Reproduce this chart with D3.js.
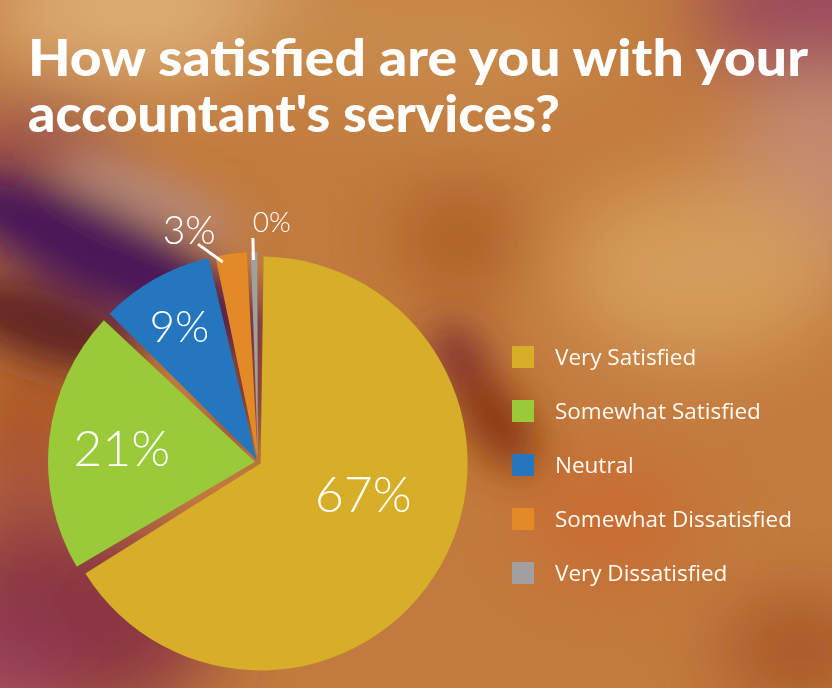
<!DOCTYPE html>
<html>
<head>
<meta charset="utf-8">
<script src="https://cdn.jsdelivr.net/npm/d3@7"></script>
<style>
  body { margin: 0; padding: 0; overflow: hidden; }
  svg { display: block; }
</style>
</head>
<body>
<div id="chart"></div>
<script>
var svgWidth = 832;
var svgHeight = 688;

// chart data
var categories = ["Very Satisfied", "Somewhat Satisfied", "Neutral", "Somewhat Dissatisfied", "Very Dissatisfied"];
var shares = [66.3, 20.9, 9.3, 2.9, 0.6];
var shareLabels = ["67%", "21%", "9%", "3%", "0%"];
var colors = ["#d6ae28", "#9ac93a", "#2476be", "#e38a27", "#a0a0a0"];
var titleLines = ["How satisfied are you with your", "accountant's services?"];

var cx = 258, cy = 462, radius = 207;

var svg = d3.select("#chart")
  .append("svg")
  .attr("width", svgWidth)
  .attr("height", svgHeight);

// blurred photo-like background
var defs = svg.append("defs");
[["soft", 40], ["sharp", 20]].forEach(function(f) {
  defs.append("filter")
      .attr("id", f[0])
      .attr("x", "-50%").attr("y", "-50%")
      .attr("width", "200%").attr("height", "200%")
    .append("feGaussianBlur")
      .attr("stdDeviation", f[1]);
});

// cx, cy, rx, ry, rotate, colour
var softBlobs = [
  [160, 10, 180, 70, 0, "#dcae74"],
  [420, 40, 200, 70, 0, "#c88a4c"],
  [830, 0, 130, 90, 0, "#9a4a5c"],
  [820, 170, 90, 110, 0, "#c48a70"],
  [30, 150, 90, 40, 0, "#904450"],
  [30, 420, 60, 60, 0, "#a84e1c"],
  [20, 510, 60, 60, 0, "#a85440"],
  [460, 240, 60, 50, 0, "#a85a22"],
  [700, 270, 140, 90, 0, "#d49c5c"],
  [610, 520, 90, 60, 0, "#c96a30"],
  [800, 650, 80, 45, 0, "#a25022"],
  [70, 620, 150, 100, 0, "#8a3442"],
  [0, 680, 60, 50, 0, "#9a4062"]
];

var sharpBlobs = [
  [150, 196, 100, 20, 22, "#b48a80"],
  [40, 325, 110, 34, 20, "#5e2022"],
  [95, 252, 170, 46, 25, "#4a1858"],
  [225, 318, 50, 28, 25, "#4a1848"],
  [245, 385, 22, 60, 0, "#6a2030"],
  [460, 360, 24, 40, -30, "#7a2a30"],
  [495, 420, 28, 60, -35, "#86340f"]
];

var bg = svg.append("g");
bg.append("rect")
    .attr("width", svgWidth)
    .attr("height", svgHeight)
    .attr("fill", "#c27b3e");

[["soft", softBlobs], ["sharp", sharpBlobs]].forEach(function(layer) {
  bg.append("g")
      .attr("filter", `url(#${layer[0]})`)
    .selectAll("ellipse")
    .data(layer[1])
    .enter()
    .append("ellipse")
      .attr("cx", d => d[0])
      .attr("cy", d => d[1])
      .attr("rx", d => d[2])
      .attr("ry", d => d[3])
      .attr("transform", d => `rotate(${d[4]}, ${d[0]}, ${d[1]})`)
      .attr("fill", d => d[5]);
});

// title
svg.append("g")
  .selectAll("text")
  .data(titleLines)
  .enter()
  .append("text")
    .attr("x", 28)
    .attr("y", (d, i) => 76 + i * 56)
    .attr("textLength", (d, i) => i === 0 ? 780 : 532)
    .attr("lengthAdjust", "spacingAndGlyphs")
    .attr("font-family", "Lato, 'Open Sans', sans-serif")
    .attr("font-weight", 900)
    .attr("font-size", "51px")
    .attr("fill", "#ffffff")
    .text(d => d);

// pie
var pie = d3.pie()
    .sort(null)
    .value(d => d);

var arcs = pie(shares);

var arc = d3.arc()
    .innerRadius(0)
    .outerRadius(radius)
    .padAngle(d => d.index === 4 ? 0.006 : 0.029);

var pieGroup = svg.append("g")
    .attr("transform", `translate(${cx}, ${cy})`);

function offset(d, dist) {
  var a = (d.startAngle + d.endAngle) / 2;
  return [Math.sin(a) * dist, -Math.cos(a) * dist];
}

pieGroup.selectAll("path")
  .data(arcs)
  .enter()
  .append("path")
    .attr("d", arc)
    .attr("fill", (d, i) => colors[i])
    .attr("transform", d => `translate(${offset(d, 3)})`);

// slice labels (hand-tuned radius / angle)
var labelLayout = [
  { r: 110, a: 107, size: 50 },
  { r: 137, a: 276, size: 50 },
  { r: 157, a: 330, size: 44 },
  { r: 242, a: 343.5, size: 39 },
  { r: 240, a: 3.3, size: 28 }
];

function polar(r, deg) {
  var a = deg * Math.PI / 180;
  return [Math.sin(a) * r, -Math.cos(a) * r];
}

pieGroup.selectAll(".pct")
  .data(arcs)
  .enter()
  .append("text")
    .attr("class", "pct")
    .attr("transform", (d, i) => `translate(${polar(labelLayout[i].r, labelLayout[i].a)})`)
    .attr("text-anchor", "middle")
    .attr("dy", "0.36em")
    .attr("font-family", "Lato, 'Open Sans', sans-serif")
    .attr("font-weight", 300)
    .attr("font-size", (d, i) => labelLayout[i].size + "px")
    .attr("fill", "#ffffff")
    .text((d, i) => shareLabels[i]);

// leader lines for the two small slices
var leaders = [
  { from: [203, 350], to: [226, 344.6] },
  { from: [202, 358.7], to: [224, 358.7] }
];

pieGroup.selectAll(".leader")
  .data(leaders)
  .enter()
  .append("line")
    .attr("class", "leader")
    .attr("x1", d => polar(d.from[0], d.from[1])[0])
    .attr("y1", d => polar(d.from[0], d.from[1])[1])
    .attr("x2", d => polar(d.to[0], d.to[1])[0])
    .attr("y2", d => polar(d.to[0], d.to[1])[1])
    .attr("stroke", "#ffffff")
    .attr("stroke-width", 3);

// legend
var legend = svg.append("g")
    .attr("transform", "translate(512, 346)");

var legendItem = legend.selectAll("g")
  .data(categories)
  .enter()
  .append("g")
    .attr("transform", (d, i) => `translate(0, ${i * 54})`);

legendItem.append("rect")
    .attr("width", 22)
    .attr("height", 22)
    .attr("fill", (d, i) => colors[i]);

legendItem.append("text")
    .attr("x", 43)
    .attr("y", 11)
    .attr("dy", "0.36em")
    .attr("font-family", "'Open Sans', 'Noto Sans', sans-serif")
    .attr("font-size", "22.5px")
    .attr("fill", "#fffaf2")
    .text(d => d);
</script>
</body>
</html>
